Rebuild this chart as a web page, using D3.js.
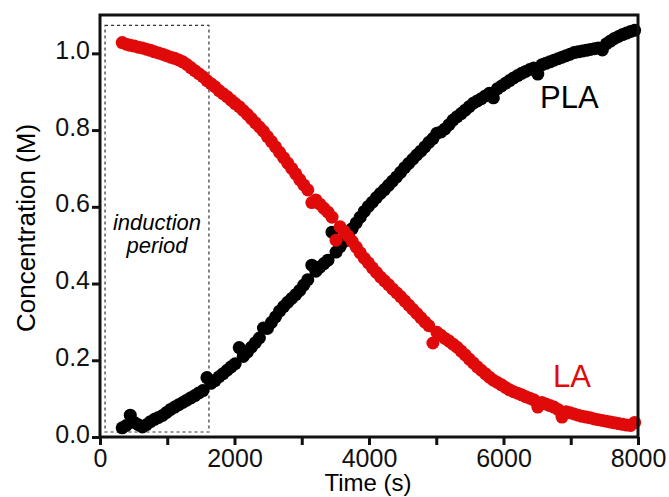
<!DOCTYPE html>
<html>
<head>
<meta charset="utf-8">
<script src="https://cdn.jsdelivr.net/npm/d3@7"></script>
<style>
    body { margin: 0; background: #fff; }
    text { font-family: "Liberation Sans", Arial, sans-serif; }
</style>
</head>
<body>
<div id="chart"></div>
<script>
// sample times (s), shared by both series
let times = [330, 390, 450, 510, 570, 630, 690, 750, 810, 870, 930, 990, 1050, 1110, 1170, 1230,
    1290, 1350, 1410, 1470, 1530, 1590, 1650, 1710, 1770, 1830, 1890, 1950, 2010, 2070, 2130, 2190,
    2250, 2310, 2370, 2430, 2490, 2550, 2610, 2670, 2730, 2790, 2850, 2910, 2970, 3030, 3090, 3150,
    3210, 3270, 3330, 3390, 3450, 3510, 3570, 3630, 3690, 3750, 3810, 3870, 3930, 3990, 4050, 4110,
    4170, 4230, 4290, 4350, 4410, 4470, 4530, 4590, 4650, 4710, 4770, 4830, 4890, 4950, 5010, 5070,
    5130, 5190, 5250, 5310, 5370, 5430, 5490, 5550, 5610, 5670, 5730, 5790, 5850, 5910, 5970, 6030,
    6090, 6150, 6210, 6270, 6330, 6390, 6450, 6510, 6570, 6630, 6690, 6750, 6810, 6870, 6930, 6990,
    7050, 7110, 7170, 7230, 7290, 7350, 7410, 7470, 7530, 7590, 7650, 7710, 7770, 7830, 7890, 7950];

// lactide monomer (M)
let laValues = [1.028, 1.024, 1.021, 1.019, 1.016, 1.014, 1.011, 1.008, 1.004, 1.001, 0.998, 0.994, 0.990, 0.987, 0.983, 0.978,
    0.971, 0.963, 0.955, 0.947, 0.939, 0.929, 0.921, 0.913, 0.903, 0.895, 0.887, 0.878, 0.869, 0.861, 0.851, 0.841,
    0.830, 0.819, 0.808, 0.797, 0.783, 0.770, 0.756, 0.742, 0.728, 0.714, 0.700, 0.686, 0.671, 0.657, 0.644, 0.611,
    0.618, 0.607, 0.596, 0.586, 0.573, 0.513, 0.548, 0.536, 0.524, 0.510, 0.495, 0.480, 0.466, 0.454, 0.441, 0.429,
    0.417, 0.407, 0.397, 0.386, 0.376, 0.366, 0.355, 0.344, 0.333, 0.322, 0.311, 0.300, 0.290, 0.245, 0.273, 0.265,
    0.257, 0.250, 0.242, 0.234, 0.224, 0.214, 0.203, 0.193, 0.183, 0.174, 0.165, 0.156, 0.148, 0.142, 0.136, 0.129,
    0.123, 0.118, 0.114, 0.110, 0.105, 0.101, 0.097, 0.078, 0.090, 0.086, 0.082, 0.078, 0.072, 0.052, 0.066, 0.063,
    0.060, 0.057, 0.054, 0.052, 0.050, 0.047, 0.045, 0.043, 0.041, 0.039, 0.037, 0.035, 0.033, 0.031, 0.030, 0.038];

// polylactide (M)
let plaValues = [0.024, 0.030, 0.057, 0.038, 0.032, 0.026, 0.032, 0.040, 0.046, 0.051, 0.056, 0.064, 0.072, 0.078, 0.084, 0.090,
    0.096, 0.102, 0.108, 0.115, 0.121, 0.155, 0.140, 0.147, 0.157, 0.165, 0.174, 0.183, 0.191, 0.233, 0.210, 0.221,
    0.234, 0.246, 0.258, 0.284, 0.283, 0.299, 0.313, 0.328, 0.340, 0.351, 0.361, 0.371, 0.382, 0.396, 0.410, 0.448,
    0.432, 0.443, 0.452, 0.461, 0.534, 0.482, 0.496, 0.510, 0.526, 0.543, 0.558, 0.573, 0.588, 0.601, 0.612, 0.624,
    0.635, 0.645, 0.656, 0.667, 0.678, 0.690, 0.702, 0.713, 0.724, 0.735, 0.745, 0.756, 0.768, 0.778, 0.792, 0.795,
    0.803, 0.814, 0.826, 0.835, 0.843, 0.852, 0.861, 0.870, 0.876, 0.882, 0.889, 0.896, 0.884, 0.908, 0.915, 0.922,
    0.929, 0.936, 0.942, 0.948, 0.953, 0.958, 0.962, 0.946, 0.970, 0.974, 0.978, 0.982, 0.986, 0.990, 0.994, 0.998,
    1.002, 1.004, 1.006, 1.008, 1.010, 1.012, 1.014, 1.009, 1.025, 1.032, 1.039, 1.044, 1.049, 1.053, 1.057, 1.060];

let xTicks = [0, 1000, 2000, 3000, 4000, 5000, 6000, 7000, 8000];
let yTicks = [0.0, 0.2, 0.4, 0.6, 0.8, 1.0];
let induction = [75, 1620];

function init() {
    let width = 669;
    let height = 497;
    let left = 100, right = 638, top = 15, bottom = 437;
    let red = "#e00a0a";

    let svg = d3.select("#chart")
        .append("svg")
        .attr("width", width)
        .attr("height", height);

    let xScale = d3.scaleLinear().domain([0, 8000]).range([left, right]);
    let yScale = d3.scaleLinear().domain([0, 1.1]).range([bottom, top]);

    // induction period box
    svg.append("rect")
        .attr("x", xScale(induction[0]))
        .attr("y", yScale(1.073))
        .attr("width", xScale(induction[1]) - xScale(induction[0]))
        .attr("height", yScale(0.013) - yScale(1.073))
        .attr("fill", "none")
        .attr("stroke", "#333")
        .attr("stroke-width", 1.2)
        .attr("stroke-dasharray", "3,3");

    svg.append("text")
        .attr("x", 157).attr("y", 230)
        .attr("text-anchor", "middle")
        .attr("font-size", 22).attr("font-style", "italic")
        .text("induction");
    svg.append("text")
        .attr("x", 157).attr("y", 253)
        .attr("text-anchor", "middle")
        .attr("font-size", 22).attr("font-style", "italic")
        .text("period");

    // data points
    let pla = times.map((t, i) => ({ x: t, y: plaValues[i] }));
    let la = times.map((t, i) => ({ x: t, y: laValues[i] }));

    svg.append("g").selectAll("circle")
        .data(pla)
        .enter().append("circle")
        .attr("cx", d => xScale(d.x))
        .attr("cy", d => yScale(d.y))
        .attr("r", 6.5)
        .attr("fill", "#000");

    svg.append("g").selectAll("circle")
        .data(la)
        .enter().append("circle")
        .attr("cx", d => xScale(d.x))
        .attr("cy", d => yScale(d.y))
        .attr("r", 6.5)
        .attr("fill", red);

    // frame
    svg.append("rect")
        .attr("x", left).attr("y", top)
        .attr("width", right - left).attr("height", bottom - top)
        .attr("fill", "none")
        .attr("stroke", "#111")
        .attr("stroke-width", 3);

    // axes
    let xAxis = svg.append("g")
        .attr("transform", "translate(0," + bottom + ")")
        .call(d3.axisBottom(xScale).tickValues(xTicks).tickSize(8).tickPadding(4)
            .tickFormat(d => d % 2000 == 0 ? d : ""));
    xAxis.select(".domain").remove();
    xAxis.selectAll("line").attr("stroke", "#111").attr("stroke-width", 3);
    xAxis.selectAll("text").attr("font-size", 25).attr("fill", "#111")
        .attr("font-family", "Liberation Sans, Arial, sans-serif");

    let yAxis = svg.append("g")
        .attr("transform", "translate(" + left + ",0)")
        .call(d3.axisLeft(yScale).tickValues(yTicks).tickSize(8).tickPadding(2)
            .tickFormat(d3.format(".1f")));
    yAxis.select(".domain").remove();
    yAxis.selectAll("line").attr("stroke", "#111").attr("stroke-width", 3);
    yAxis.selectAll("text").attr("font-size", 25).attr("fill", "#111")
        .attr("dy", "0.2em")
        .attr("font-family", "Liberation Sans, Arial, sans-serif");

    // axis titles
    svg.append("text")
        .attr("x", 368).attr("y", 491)
        .attr("text-anchor", "middle")
        .attr("font-size", 24)
        .text("Time (s)");
    svg.append("text")
        .attr("transform", "translate(35,228) rotate(-90)")
        .attr("text-anchor", "middle")
        .attr("font-size", 26)
        .text("Concentration (M)");

    // series labels
    svg.append("text")
        .attr("x", 540).attr("y", 108)
        .attr("font-size", 31)
        .attr("fill", "#000")
        .text("PLA");
    svg.append("text")
        .attr("x", 553).attr("y", 387)
        .attr("font-size", 31)
        .attr("fill", red)
        .text("LA");
}

window.addEventListener('load', init);
</script>
</body>
</html>
